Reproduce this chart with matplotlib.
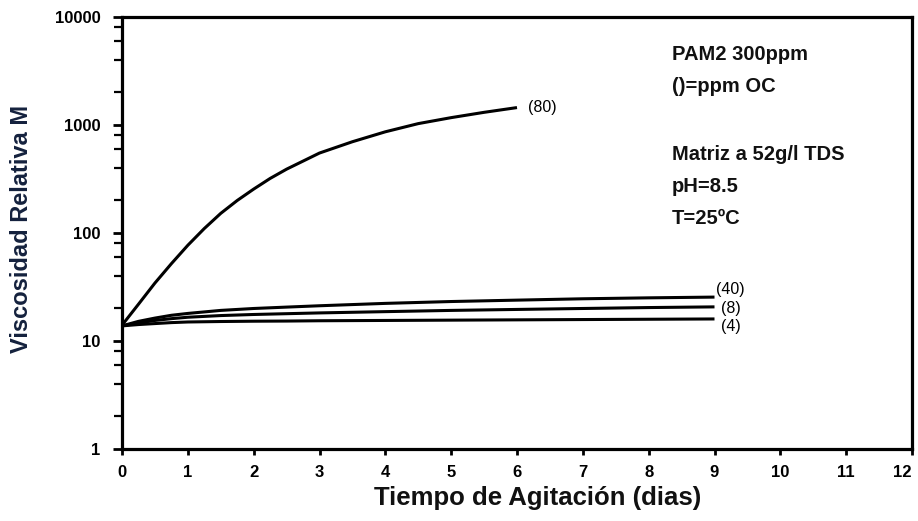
import matplotlib
matplotlib.use("Agg")
import matplotlib.pyplot as plt
from matplotlib.ticker import FixedLocator, FuncFormatter

plt.rcParams["font.family"] = ["Liberation Sans", "DejaVu Sans"]

# values (days, relative viscosity)
days_80 = [0, 0.25, 0.5, 0.75, 1, 1.25, 1.5, 1.75, 2, 2.25, 2.5, 3, 3.5, 4, 4.5, 5, 5.5, 6]
visc_80 = [14, 21.9, 34.4, 52, 77, 110, 152, 200, 255, 320, 390, 550, 700, 865, 1030, 1170, 1310, 1450]

days_low = [0, 0.25, 0.5, 0.75, 1, 1.5, 2, 2.5, 3, 4, 5, 6, 7, 8, 9]
visc_40 = [13.8, 15.2, 16.3, 17.3, 18.0, 19.2, 20.0, 20.6, 21.2, 22.3, 23.2, 23.9, 24.6, 25.1, 25.5]
visc_8 = [13.8, 14.7, 15.5, 16.1, 16.6, 17.2, 17.6, 17.9, 18.2, 18.7, 19.2, 19.6, 20.0, 20.4, 20.7]
visc_4 = [13.8, 14.2, 14.5, 14.8, 15.0, 15.15, 15.25, 15.3, 15.4, 15.5, 15.6, 15.7, 15.8, 15.9, 16.0]

curve_labels = ["(80)", "(40)", "(8)", "(4)"]

x_ticks = list(range(0, 13))
y_ticks = [1, 10, 100, 1000, 10000]

notes = ["PAM2 300ppm", "()=ppm OC", "Matriz a 52g/l TDS", "pH=8.5", "T=25ºC"]
notes_y = [55, 87, 155, 187, 218]   # pixel rows of the note lines

W, H = 918, 521
fig = plt.figure(figsize=(W / 100, H / 100), dpi=100)
ax = fig.add_axes([122 / W, 1 - 449 / H, 790 / W, 432 / H])

for xs, ys in [(days_80, visc_80), (days_low, visc_40), (days_low, visc_8), (days_low, visc_4)]:
    ax.plot(xs, ys, color="black", lw=2.2, solid_capstyle="butt")

ax.set_yscale("log")
ax.set_xlim(0, 12)
ax.set_ylim(1, 10000)
ax.xaxis.set_major_locator(FixedLocator(x_ticks))
ax.yaxis.set_major_locator(FixedLocator(y_ticks))
ax.yaxis.set_minor_locator(FixedLocator(
    [m * 10 ** e for e in range(0, 4) for m in (2, 4, 6, 8)]))
ax.yaxis.set_major_formatter(FuncFormatter(lambda v, p: f"{v:.0f}"))
ax.yaxis.set_minor_formatter(FuncFormatter(lambda v, p: ""))

ax.tick_params(axis="x", which="major", direction="out", length=4.5, width=2,
               labelsize=12, pad=7)
ax.tick_params(axis="y", which="major", direction="out", length=6.5, width=2,
               labelsize=12, pad=9)
ax.tick_params(axis="y", which="minor", direction="out", length=6, width=1.6)
for lab in ax.get_xticklabels() + ax.get_yticklabels():
    lab.set_fontweight("bold")
# keep the last x label inside the canvas
ax.get_xticklabels()[-1].set_horizontalalignment("right")
for sp in ax.spines.values():
    sp.set_linewidth(2.3)

# curve labels
ax.text(6.16, visc_80[-1], curve_labels[0], fontsize=11.5, va="center", ha="left")
ax.text(9.03, 30.3, curve_labels[1], fontsize=11.5, va="center", ha="left")
ax.text(9.10, 20.2, curve_labels[2], fontsize=11.5, va="center", ha="left")
ax.text(9.10, 13.5, curve_labels[3], fontsize=11.5, va="center", ha="left")

# condition notes
for t, yp in zip(notes, notes_y):
    fig.text(672 / W, 1 - yp / H, t, fontsize=14.5, fontweight="bold",
             va="center", ha="left", color="#111111")

fig.text(538 / W, 1 - 498 / H, "Tiempo de Agitación (dias)", fontsize=18.5,
         fontweight="bold", color="#111111", ha="center", va="center")
fig.text(22 / W, 1 - 229 / H, "Viscosidad Relativa M", fontsize=17,
         fontweight="bold", color="#14213d", ha="center", va="center",
         rotation=90)

fig.savefig("out.png", dpi=100)
